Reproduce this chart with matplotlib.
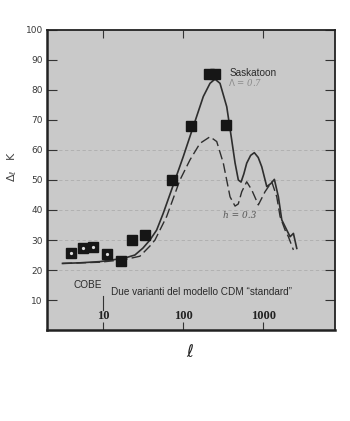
import matplotlib
matplotlib.use("Agg")
import matplotlib.pyplot as plt
from matplotlib.ticker import FixedLocator, NullFormatter, NullLocator

# Multipole moments and temperature fluctuations
ell_data = [3.95, 5.68, 7.44, 11.1, 16.6, 23.0, 33.1, 72.2, 127, 213, 253, 342]
dT_data = [25.6, 27.3, 27.6, 25.3, 23.1, 30.0, 31.6, 50.0, 68.1, 85.2, 85.2, 68.3]
cobe_ell = [3.95, 5.68, 7.44, 11.1]
cobe_dT = [25.6, 27.3, 27.6, 25.3]

# CDM variant with Lambda = 0.7 (solid)
ell_lambda = [3.13, 5.16, 9.17, 14.1, 18.8, 25.1, 31.6, 38.7, 46.9, 56.7, 75.6,
              100.9, 134.5, 179.4, 217.6, 251, 290, 352, 400, 447, 491, 531,
              575, 625, 700, 778, 870, 963, 1112, 1250, 1384, 1553, 1713, 1978,
              2176, 2393, 2636]
dT_lambda = [22.2, 22.4, 22.8, 23.5, 24.0, 25.0, 27.3, 30.0, 33.3, 38.9, 48.3,
             57.8, 67.8, 77.8, 82.2, 83.6, 82.2, 74.4, 64.5, 55.7, 50.0, 49.3,
             52.0, 55.6, 58.2, 59.1, 57.5, 54.4, 47.8, 48.8, 50.2, 44.4, 36.7,
             33.3, 31.1, 32.2, 27.2]

# CDM variant with h = 0.3 (dashed)
ell_h = [3.13, 9.17, 18.8, 29.0, 38.7, 44.7, 62.5, 91.7, 122.4, 163, 217.6, 264,
         319, 387, 447, 490, 542, 625, 722, 873, 1059, 1284, 1483, 1632, 1884,
         2071, 2393]
dT_h = [22.2, 22.6, 23.5, 24.6, 28.0, 30.0, 37.8, 50.0, 56.7, 62.2, 64.4, 62.8,
        55.6, 44.4, 41.3, 42.0, 46.1, 49.4, 46.7, 41.7, 46.1, 49.4, 44.4, 37.8,
        33.3, 31.1, 26.7]

y_ticks = [10, 20, 30, 40, 50, 60, 70, 80, 90, 100]
x_ticks = [10, 100, 1000]
x_tick_labels = ["10", "100", "1000"]
grid_levels = [20, 30, 40, 50, 60]

fig = plt.figure(figsize=(3.5, 4.21), dpi=100)
fig.patch.set_facecolor("white")
ax = fig.add_axes([0.134, 0.216, 0.823, 0.713])
ax.set_facecolor("#c9c9c9")
ax.set_xscale("log")
ax.set_xlim(2.0, 7900)
ax.set_ylim(0, 100)

for lvl in grid_levels:
    ax.axhline(lvl, color="#8c8c8c", lw=0.6, ls=(0, (4, 3)), alpha=0.45, zorder=1)

ax.plot(ell_lambda, dT_lambda, color="#2e2e2e", lw=1.2, zorder=3)
ax.plot(ell_h, dT_h, color="#2e2e2e", lw=1.0, ls=(0, (7, 3)), zorder=3)
ax.plot(ell_data, dT_data, ls="none", marker="s", ms=6.5, color="#161616", zorder=4)
ax.plot(cobe_ell, cobe_dT, ls="none", marker="o", ms=1.3, color="#dddddd", zorder=5)

# axes frame
for side, lw in (("left", 1.8), ("bottom", 1.8), ("top", 1.3), ("right", 1.3)):
    ax.spines[side].set_linewidth(lw)
    ax.spines[side].set_color("#222222")

ax.yaxis.set_major_locator(FixedLocator(y_ticks))
ax.set_yticklabels([str(v) for v in y_ticks])
ax.tick_params(axis="y", direction="in", length=7, width=0.8, color="#333333",
               labelsize=6.5, labelcolor="#3a3a3a", pad=3, right=True)
ax.xaxis.set_major_locator(FixedLocator(x_ticks))
ax.xaxis.set_minor_locator(NullLocator())
ax.xaxis.set_major_formatter(NullFormatter())
ax.tick_params(axis="x", direction="in", length=6, width=0.8, color="#333333",
               top=True, bottom=True)

# decade labels sit inside the frame
for xv, lab in zip(x_ticks, x_tick_labels):
    ax.text(xv, 0.027, lab, transform=ax.get_xaxis_transform(), ha="center",
            va="bottom", fontsize=9, fontweight="bold", family="Liberation Serif",
            color="#222222")

ax.plot([10, 10], [6.7, 11.3], color="#333333", lw=0.8)

ax.text(387, 85.7, "Saskatoon", fontsize=7.2, family="Liberation Sans",
        color="#2a2a2a", ha="left", va="center", zorder=6)
ax.text(365, 82.6, r"$\Lambda$ = 0.7", fontsize=6.2, family="DejaVu Serif",
        style="italic", color="#8a8a8a", ha="left", va="center", zorder=2)
ax.text(316, 38.3, "h = 0.3", fontsize=6.5, family="DejaVu Serif",
        style="italic", color="#555555", ha="left", va="center", zorder=6)
ax.text(4.3, 15.0, "COBE", fontsize=7.2, family="Liberation Sans",
        color="#2a2a2a", ha="left", va="center")
ax.text(12.5, 12.7, "Due varianti del modello CDM \u201cstandard\u201d",
        fontsize=7.2, family="Liberation Sans", color="#2a2a2a",
        ha="left", va="center")

fig.text(0.034, 0.605, r"$\Delta_\ell$   K", rotation=90, ha="center",
         va="center", fontsize=8, color="#444444")
fig.text(0.543, 0.164, r"$\ell$", ha="center", va="center", fontsize=12,
         color="#222222")

fig.savefig("out.png", dpi=100)
